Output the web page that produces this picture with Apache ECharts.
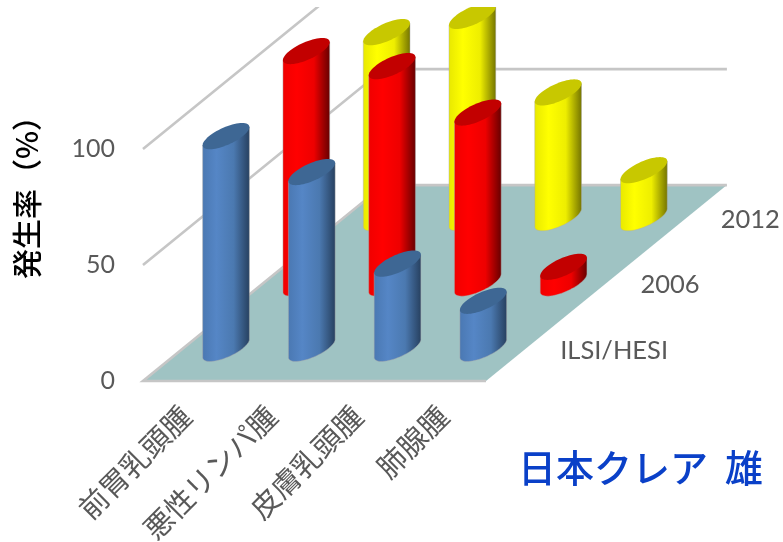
<!DOCTYPE html>
<html>
<head>
<meta charset="utf-8">
<style>html,body{margin:0;padding:0;background:#fff}#c{width:783px;height:542px}</style>
<script src="https://cdn.jsdelivr.net/npm/echarts@6/dist/echarts.min.js"></script>
</head>
<body>
<div id="c"></div>
<script>
// Tumour incidence (%) by tumour type and study
const categories = ['前胃乳頭腫', '悪性リンパ腫', '皮膚乳頭腫', '肺腺腫'];
const studies = ['ILSI/HESI', '2006', '2012'];
const valuesIlsi = [91.5, 76, 36.5, 20.5];
const values2006 = [100, 93.5, 73.5, 7];
const values2012 = [80, 87, 54, 20.5];
const yTicks = [0, 50, 100];

// Depth direction of the oblique projection: pixels moved per study row
const ROW_DX = 80.3, ROW_DY = 65.3;
const RADIUS = 0.197;   // cylinder radius as a share of a floor cell

const CJK = '"Noto Sans CJK JP", sans-serif';
const LATIN = 'Lato, "Noto Sans CJK JP", sans-serif';
const GREY = '#595959';
const EDGE = '#c6c6c6';

const palettes = [
  { top: '#3e6794', stops: ['#4a78b2', '#5586c6', '#4b79b0', '#263f5e'] },
  { top: '#c20000', stops: ['#f00000', '#ff0000', '#ee0000', '#640000'] },
  { top: '#c8c800', stops: ['#e8e800', '#ffff00', '#eeee00', '#727200'] }
];

function bodyGradient(stops) {
  return {
    type: 'linear', x: 0, y: 0, x2: 1, y2: 0,
    colorStops: [
      { offset: 0, color: stops[0] },
      { offset: 0.3, color: stops[1] },
      { offset: 0.66, color: stops[2] },
      { offset: 1, color: stops[3] }
    ]
  };
}

// Cylinder standing on the sheared floor: body silhouette plus a darker cap
function renderCylinder(row) {
  return function (params, api) {
    const cat = api.value(0);
    const base = api.coord([cat, 0]);
    const top = api.coord([cat, api.value(1)]);
    const cell = api.size([1, 0])[0];
    const shiftX = (row + 0.5) * ROW_DX, shiftY = (row + 0.5) * ROW_DY;
    const cx = base[0] + shiftX;
    const by = base[1] - shiftY;
    const ty = top[1] - shiftY;
    const a = RADIUS * cell;
    const bx = RADIUS * 1.02 * ROW_DX;
    const bh = RADIUS * 1.02 * ROW_DY;
    const point = (t, y) => [cx + a * Math.cos(t) + bx * Math.sin(t), y - bh * Math.sin(t)];
    const t0 = Math.atan2(bx, a);
    const cap = [], body = [];
    for (let i = 0; i < 64; i++) cap.push(point(i / 64 * Math.PI * 2, ty));
    body.push(point(t0, ty));
    for (let i = 0; i <= 32; i++) body.push(point(t0 - i / 32 * Math.PI, by));
    body.push(point(t0 - Math.PI, ty));
    const pal = palettes[row];
    return {
      type: 'group',
      children: [
        { type: 'polygon', shape: { points: body }, style: { fill: bodyGradient(pal.stops), stroke: 'rgba(170,170,170,0.45)', lineWidth: 1 } },
        { type: 'polygon', shape: { points: cap }, style: { fill: pal.top } }
      ]
    };
  };
}

// Teal floor spanning the category axis and all study rows
function renderFloor(params) {
  const g = params.coordSys;
  const bottom = g.y + g.height;
  const dx = studies.length * ROW_DX, dy = studies.length * ROW_DY;
  return {
    type: 'polygon',
    shape: { points: [[g.x, bottom], [g.x + g.width, bottom], [g.x + g.width + dx, bottom - dy], [g.x + dx, bottom - dy]] },
    style: { fill: '#9fc3c3' }
  };
}

// Gridlines running along the side wall and the back wall
function renderWallLine(params, api) {
  const g = params.coordSys;
  const p = api.coord([0, api.value(1)]);
  const dx = studies.length * ROW_DX, dy = studies.length * ROW_DY;
  const points = [[g.x, p[1]], [g.x + dx, p[1] - dy], [g.x + g.width + dx, p[1] - dy]];
  if (api.value(1) === 0) points.unshift([g.x + g.width, p[1]]);
  return {
    type: 'polyline',
    shape: { points },
    style: { stroke: EDGE, lineWidth: 2.6, fill: 'none', lineJoin: 'miter' }
  };
}

// Study names beside the right edge of the floor
function renderStudyLabel(params, api) {
  const row = api.value(0);
  const g = params.coordSys;
  return {
    type: 'text',
    style: {
      text: studies[row],
      x: g.x + g.width + (row + 0.5) * ROW_DX + 34,
      y: g.y + g.height - (row + 0.5) * ROW_DY + 2,
      fill: GREY,
      font: '25.5px ' + LATIN,
      textAlign: 'left',
      textVerticalAlign: 'middle'
    }
  };
}

const asPairs = vals => vals.map((v, i) => [i, v]);
const rows = [valuesIlsi, values2006, values2012];

const series = [
  { type: 'custom', z: 1, silent: true, clip: false, renderItem: renderFloor, data: [[0, 0]] },
  { type: 'custom', z: 2, silent: true, clip: false, renderItem: renderWallLine, data: yTicks.map(v => [0, v]) },
  { type: 'custom', z: 2, silent: true, clip: false, renderItem: renderStudyLabel, data: studies.map((s, i) => [i, 0]) }
];
// Back rows are added first so that nearer cylinders cover them
[2, 1, 0].forEach(row => {
  series.push({
    name: studies[row], type: 'custom', z: 5 + (2 - row), silent: true, clip: false,
    renderItem: renderCylinder(row), data: asPairs(rows[row])
  });
});

const chart = echarts.init(document.getElementById('c'), null, { renderer: 'canvas' });
chart.setOption({
  animation: false,
  backgroundColor: '#fff',
  grid: { left: 143, right: 297, top: 149, bottom: 161, outerBoundsMode: 'none' },
  xAxis: {
    type: 'category',
    data: categories,
    axisLine: { show: false },
    axisTick: { show: false },
    axisLabel: { rotate: 45, interval: 0, margin: 30, color: GREY, fontSize: 29, fontFamily: CJK }
  },
  yAxis: {
    type: 'value',
    min: 0, max: 100, interval: 50,
    axisLine: { show: false },
    axisTick: { show: false },
    splitLine: { show: false },
    axisLabel: { margin: 28, color: GREY, fontSize: 25, fontFamily: LATIN }
  },
  graphic: [
    // Plot area ends a few pixels below the page top
    { type: 'rect', z: 100, shape: { x: 0, y: 0, width: 783, height: 7 }, style: { fill: '#fff' } },
    {
      type: 'text', z: 101, x: 27, y: 190, rotation: Math.PI / 2,
      style: { text: '発生率（%）', fill: '#000', font: '500 30px ' + CJK, textAlign: 'center', textVerticalAlign: 'middle' }
    },
    {
      type: 'text', z: 101, x: 518, y: 468,
      style: { text: '日本クレア  雄', fill: '#0a40c8', font: '500 38px ' + CJK, textAlign: 'left', textVerticalAlign: 'middle' }
    }
  ],
  series
});
</script>
</body>
</html>
